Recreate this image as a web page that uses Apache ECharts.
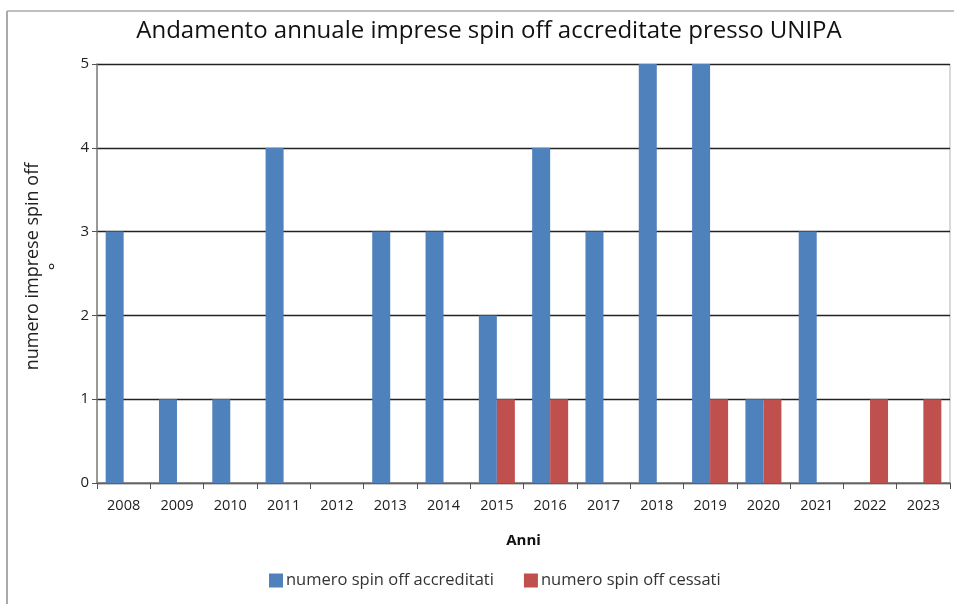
<!DOCTYPE html>
<html>
<head>
<meta charset="utf-8">
<script src="https://cdn.jsdelivr.net/npm/echarts@6/dist/echarts.min.js"></script>
<style>
  html, body { margin: 0; padding: 0; background: #fff; }
  #main { width: 954px; height: 604px; }
</style>
</head>
<body>
<div id="main"></div>
<script>
// anni e valori
const anni = ['2008', '2009', '2010', '2011', '2012', '2013', '2014', '2015',
  '2016', '2017', '2018', '2019', '2020', '2021', '2022', '2023'];
const accreditati = [3, 1, 1, 4, 0, 3, 3, 2, 4, 3, 5, 5, 1, 3, 0, 0];
const cessati = [0, 0, 0, 0, 0, 0, 0, 1, 1, 0, 0, 1, 1, 0, 1, 1];
const yTicks = [0, 1, 2, 3, 4, 5];

const font = '"Open Sans", "Noto Sans", sans-serif';

let chart = echarts.init(document.getElementById('main'));

let option = {
  animation: false,
  textStyle: { fontFamily: font },
  title: {
    text: 'Andamento annuale imprese spin off accreditate presso UNIPA',
    left: 484,
    textAlign: 'center',
    top: 14,
    textStyle: { fontSize: 24, fontWeight: 'normal', color: '#111', fontFamily: font }
  },
  // cornice esterna
  graphic: [
    { type: 'line', shape: { x1: 7, y1: 11, x2: 7, y2: 604 }, style: { stroke: '#aaa', lineWidth: 2 } },
    { type: 'line', shape: { x1: 7, y1: 11, x2: 954, y2: 11 }, style: { stroke: '#aaa', lineWidth: 1.5 } },
    { type: 'line', shape: { x1: 950, y1: 64, x2: 950, y2: 483 }, style: { stroke: '#ccc', lineWidth: 1.5 } }
  ],
  legend: {
    bottom: 10,
    left: 264,
    itemWidth: 14,
    itemHeight: 14,
    itemGap: 30,
    icon: 'rect',
    textStyle: { fontSize: 16.5, color: '#333', fontFamily: font, padding: [0, 0, 0, -2] },
    data: ['numero spin off accreditati', 'numero spin off cessati']
  },
  grid: { left: 97, right: 4, top: 64, bottom: 121 },
  xAxis: {
    type: 'category',
    data: anni,
    name: 'Anni',
    nameLocation: 'middle',
    nameGap: 50,
    nameTextStyle: { fontSize: 15, fontWeight: 'bold', color: '#111' },
    axisLine: { lineStyle: { color: '#777', width: 1.5 } },
    axisTick: { show: true, alignWithLabel: false, length: 6, lineStyle: { color: '#555' } },
    axisLabel: { fontSize: 14.5, color: '#222', margin: 15 }
  },
  yAxis: {
    type: 'value',
    min: 0,
    max: 5,
    interval: 1,
    name: 'numero imprese spin off\n°',
    nameLocation: 'middle',
    nameGap: 28,
    nameTextStyle: { fontSize: 18, color: '#222', lineHeight: 24, padding: [0, 0, 0, 14] },
    axisLine: { show: true, lineStyle: { color: '#777', width: 1.5 } },
    axisTick: { show: true, length: 5, lineStyle: { color: '#555' } },
    axisLabel: {
      fontSize: 15, color: '#222', margin: 8,
      formatter: v => yTicks.includes(v) ? String(v) : ''
    },
    splitLine: { lineStyle: { color: '#222', width: 1.3 } }
  },
  series: [
    {
      name: 'numero spin off accreditati',
      type: 'bar',
      data: accreditati,
      barWidth: 18,
      barGap: '0%',
      itemStyle: { color: '#4F81BD' }
    },
    {
      name: 'numero spin off cessati',
      type: 'bar',
      data: cessati,
      barWidth: 18,
      barGap: '0%',
      itemStyle: { color: '#C0504D' }
    }
  ]
};

chart.setOption(option);
</script>
</body>
</html>
